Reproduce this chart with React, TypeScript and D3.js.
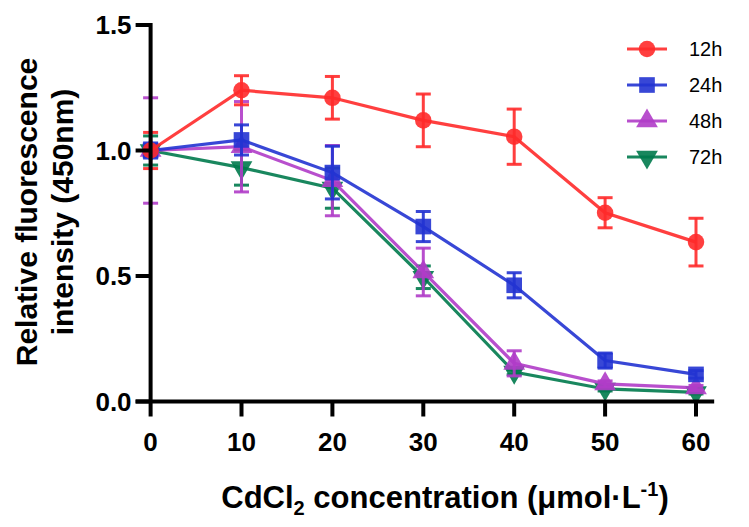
import React from "react";
import * as d3 from "d3";

const concentrations = [0, 10, 20, 30, 40, 50, 60];
const seriesNames = ["12h", "24h", "48h", "72h"];
const mean12h = [1.0, 1.24, 1.21, 1.12, 1.055, 0.752, 0.635];
const err12h = [0.072, 0.058, 0.085, 0.105, 0.11, 0.06, 0.095];
const mean24h = [1.0, 1.042, 0.912, 0.697, 0.463, 0.163, 0.108];
const err24h = [0.03, 0.06, 0.105, 0.06, 0.05, 0.03, 0.015];
const mean48h = [1.0, 1.015, 0.88, 0.516, 0.152, 0.07, 0.054];
const err48h = [0.21, 0.18, 0.14, 0.095, 0.05, 0.012, 0.01];
const mean72h = [1.0, 0.932, 0.85, 0.495, 0.117, 0.05, 0.036];
const err72h = [0.058, 0.07, 0.08, 0.045, 0.01, 0.008, 0.006];
const yTicks = [0.0, 0.5, 1.0, 1.5];
const xTicks = [0, 10, 20, 30, 40, 50, 60];

const colors = ["#ff2a2a", "#2233d2", "#b03cc8", "#007a4c"];
const shapes = ["circle", "square", "triangle", "triangleDown"];

const W = 749;
const H = 527;

export default function App() {
  const x = d3.scaleLinear().domain([0, 60]).range([150.6, 696]);
  const y = d3.scaleLinear().domain([0, 1.5]).range([401.5, 25]);
  const means = [mean12h, mean24h, mean48h, mean72h];
  const errs = [err12h, err24h, err48h, err72h];
  const font = "'Liberation Sans', Arial, sans-serif";
  const line = d3
    .line<number>()
    .x((_, i) => x(concentrations[i]))
    .y((d) => y(d));

  const symbolPath = (shape: string) => {
    if (shape === "circle") return d3.symbol(d3.symbolCircle, 215)()!;
    if (shape === "square") return d3.symbol(d3.symbolSquare, 245)()!;
    return d3.symbol(d3.symbolTriangle, 205)()!;
  };
  const Marker = ({ shape, cx, cy, color }: any) => (
    <path
      d={symbolPath(shape)}
      transform={`translate(${cx},${cy})${shape === "triangleDown" ? " rotate(180)" : ""}`}
      fill={color}
      fillOpacity={0.9}
    />
  );

  const order = [3, 2, 1, 0];
  const xEnd = x(62);

  return (
    <svg width={W} height={H} style={{ display: "block", position: "absolute", left: 0, top: 0 }}>
      <rect width={W} height={H} fill="#fff" />
      {order.map((s) => (
        <g key={s}>
          <path d={line(means[s])!} fill="none" stroke={colors[s]} strokeWidth={3.2} strokeOpacity={0.9} />
          {means[s].map((m, i) => {
            const cx = x(concentrations[i]);
            const t = y(m + errs[s][i]);
            const b = y(m - errs[s][i]);
            return (
              <g key={i} stroke={colors[s]} strokeWidth={3} strokeOpacity={0.9}>
                <line x1={cx} x2={cx} y1={t} y2={b} />
                <line x1={cx - 7.5} x2={cx + 7.5} y1={t} y2={t} />
                <line x1={cx - 7.5} x2={cx + 7.5} y1={b} y2={b} />
              </g>
            );
          })}
          {means[s].map((m, i) => (
            <Marker key={i} shape={shapes[s]} cx={x(concentrations[i])} cy={y(m)} color={colors[s]} />
          ))}
        </g>
      ))}
      {/* axes */}
      <g stroke="#000" strokeWidth={4}>
        <line x1={x(0)} x2={x(0)} y1={y(1.5) - 2} y2={y(0)} />
        <line x1={x(0) - 15} x2={xEnd} y1={y(0)} y2={y(0)} />
        {yTicks.map((t) => (
          <line key={t} x1={x(0) - 15} x2={x(0)} y1={y(t)} y2={y(t)} />
        ))}
        {xTicks.map((t) => (
          <line key={t} x1={x(t)} x2={x(t)} y1={y(0)} y2={y(0) + 15} />
        ))}
      </g>
      {yTicks.map((t) => (
        <text
          key={t}
          x={x(0) - 19}
          y={y(t)}
          dy="0.36em"
          textAnchor="end"
          fontFamily={font}
          fontWeight="bold"
          fontSize={26}
        >
          {t.toFixed(1)}
        </text>
      ))}
      {xTicks.map((t) => (
        <text
          key={t}
          x={x(t)}
          y={451}
          textAnchor="middle"
          fontFamily={font}
          fontWeight="bold"
          fontSize={26}
        >
          {t}
        </text>
      ))}
      <text x={445} y={508} textAnchor="middle" fontFamily={font} fontWeight="bold" fontSize={31}>
        CdCl
        <tspan fontSize={20} dy={7}>2</tspan>
        <tspan dy={-7}> concentration (μmol·L</tspan>
        <tspan fontSize={20} dy={-12}>-1</tspan>
        <tspan dy={12}>)</tspan>
      </text>
      <g transform="translate(0,212) rotate(-90)" fontFamily={font} fontWeight="bold" fontSize={30}>
        <text x={0} y={37} textAnchor="middle">Relative fluorescence</text>
        <text x={0} y={73} textAnchor="middle">intensity (450nm)</text>
      </g>
      {/* legend */}
      {seriesNames.map((n, i) => {
        const ly = 49 + i * 36;
        return (
          <g key={n}>
            <line x1={627} x2={667} y1={ly} y2={ly} stroke={colors[i]} strokeWidth={3.2} strokeOpacity={0.9} />
            <Marker shape={shapes[i]} cx={647} cy={ly} color={colors[i]} />
            <text x={689} y={ly} dy="0.36em" fontFamily={font} fontSize={20}>
              {n}
            </text>
          </g>
        );
      })}
    </svg>
  );
}
